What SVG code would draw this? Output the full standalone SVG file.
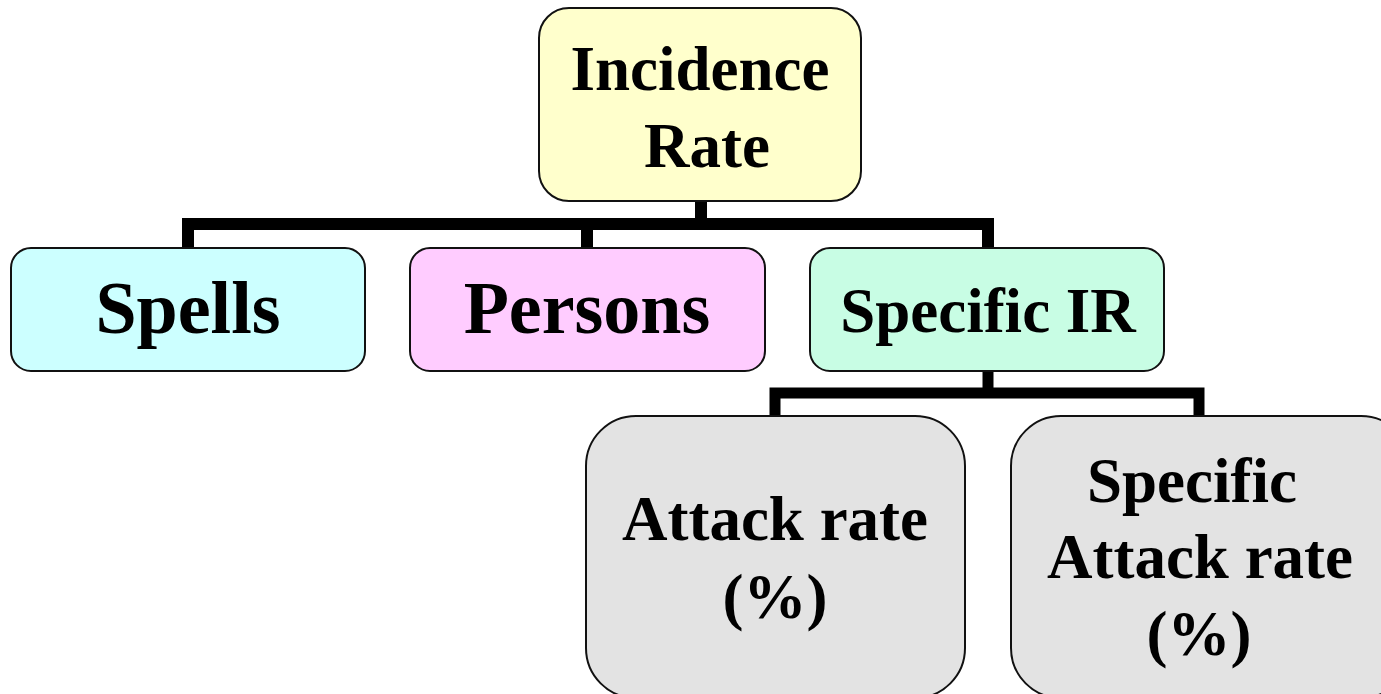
<svg xmlns="http://www.w3.org/2000/svg" width="1381" height="694" viewBox="0 0 1381 694">
<style>
.box{stroke:#111;stroke-width:2}
.t{font-family:"Liberation Serif","Times New Roman",serif;font-weight:bold;fill:#000;text-anchor:middle}
.c{fill:none;stroke:#000;stroke-linejoin:miter}
</style>
<rect width="1381" height="694" fill="#fff"/>
<g id="connectors">
<path class="c" stroke-width="12" d="M701 202 V224"/>
<path class="c" stroke-width="12" d="M188 248 V224 H988 V248"/>
<path class="c" stroke-width="12" d="M587 224 V248"/>
<path class="c" stroke-width="11" d="M988 371 V393"/>
<path class="c" stroke-width="11" d="M775 416 V393 H1199 V416"/>
</g>
<g id="incidence-rate">
<rect class="box" x="539" y="8" width="322" height="193" rx="30" fill="#FFFFCC"/>
<text class="t" x="700" y="90" font-size="63">Incidence</text>
<text class="t" x="707" y="167" font-size="63">Rate</text>
</g>
<g id="spells">
<rect class="box" x="11" y="248" width="354" height="123" rx="20" fill="#CCFFFF"/>
<text class="t" x="188" y="333" font-size="74">Spells</text>
</g>
<g id="persons">
<rect class="box" x="410" y="248" width="355" height="123" rx="20" fill="#FFCCFF"/>
<text class="t" x="587" y="333" font-size="74">Persons</text>
</g>
<g id="specific-ir">
<rect class="box" x="810" y="248" width="354" height="123" rx="20" fill="#C8FDE4"/>
<text class="t" x="988" y="332" font-size="63">Specific IR</text>
</g>
<g id="attack-rate">
<rect class="box" x="586" y="416" width="379" height="282" rx="50" fill="#E3E3E3"/>
<text class="t" x="775" y="540" font-size="63">Attack rate</text>
<text class="t" x="775" y="618" font-size="63">(%)</text>
</g>
<g id="specific-attack-rate">
<rect class="box" x="1011" y="416" width="400" height="282" rx="50" fill="#E3E3E3"/>
<text class="t" x="1192" y="502" font-size="63">Specific</text>
<text class="t" x="1200" y="578" font-size="63">Attack rate</text>
<text class="t" x="1199" y="655" font-size="63">(%)</text>
</g>
</svg>
